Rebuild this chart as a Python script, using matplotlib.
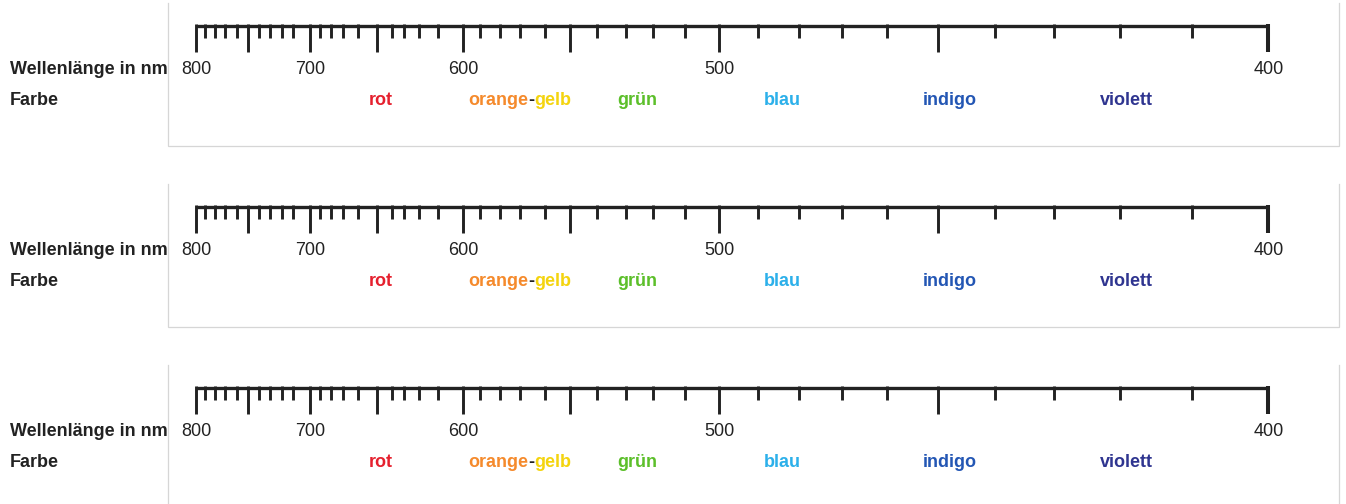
import numpy as np
import matplotlib
matplotlib.use('Agg')
import matplotlib.pyplot as plt

plt.rcParams['font.family'] = ['Liberation Sans', 'DejaVu Sans']

# ruler calibration: wavelength (nm) and where its tick sits across the strip (px)
scale_nm = [800, 790, 780, 770, 760, 750, 740, 730, 720, 710, 700,
            690, 680, 670, 660, 650, 640, 630, 620, 610, 600,
            590, 580, 570, 560, 550, 540, 530, 520, 510, 500,
            490, 480, 470, 460, 450, 440, 430, 420, 410, 400]
scale_px = [196, 205, 214.7, 225.3, 237, 248, 258.7, 270, 281.5, 293.3, 310,
            320, 330.5, 343, 358.3, 376.7, 391.5, 404, 418.7, 438.3, 463.3,
            480, 500, 520, 545, 569.7, 597, 625.5, 653.3, 685, 719.2,
            757.8, 798.8, 841.7, 886.7, 938, 994.5, 1054.3, 1119.5, 1192, 1268.3]

major_nm = [800, 750, 700, 650, 600, 550, 500, 450, 400]
label_nm = [800, 700, 600, 500, 400]

color_names = ['rot', 'grün', 'blau', 'indigo', 'violett']
color_nm = [647.4, 525.9, 484.1, 447.9, 419.1]
color_hex = ['#e5202e', '#5cbf2a', '#2cb0ea', '#2356b4', '#2f3590']
# the split label "orange-gelb"
split_nm = 565.6
split_names = ['orange', 'gelb']
split_hex = ['#f58a2c', '#f4d40e']

panel_offsets = [0, 181, 362]

W, H = 1346, 504
ink = '#222222'

# ascending wavelength, negated pixel position -> monotonic increasing scale
cal_nm = np.array(scale_nm[::-1], dtype=float)
cal_neg = -np.array(scale_px[::-1], dtype=float)


def fwd(x):
    return np.interp(x, cal_nm, cal_neg)


def inv(p):
    return np.interp(p, cal_neg, cal_nm)


fig = plt.figure(figsize=(W / 100, H / 100), dpi=100)
bg = fig.add_axes([0, 0, 1, 1])
bg.set_xlim(0, W)
bg.set_ylim(H, 0)
bg.axis('off')

for off in panel_offsets:
    # light frame around each panel (left, right, bottom)
    bg.plot([168, 168, 1339, 1339], [off + 3, off + 146, off + 146, off + 3],
            color='#d6d6d6', lw=0.9, solid_joinstyle='miter')
    bg.text(10, off + 74, 'Wellenlänge in nm', fontsize=13, fontweight='bold',
            color=ink, va='baseline', ha='left')
    bg.text(10, off + 105, 'Farbe', fontsize=13, fontweight='bold',
            color=ink, va='baseline', ha='left')

    left = scale_px[0]
    right = scale_px[-1]
    ax = fig.add_axes([left / W, 1 - (off + 150) / H, (right - left) / W, 150 / H])
    ax.set_xscale('function', functions=(fwd, inv))
    ax.set_xlim(800, 400)
    ax.set_ylim(150, 0)
    ax.axis('off')

    ax.plot([800, 400], [25.5, 25.5], color=ink, lw=2.4, solid_capstyle='butt',
            clip_on=False)
    minor = [v for v in scale_nm if v not in major_nm]
    ax.vlines(minor, 24, 38, color=ink, lw=2.1, clip_on=False)
    ax.vlines([v for v in major_nm if v != 400], 24, 52, color=ink, lw=2.1,
              clip_on=False)
    ax.vlines([400], 24, 52, color=ink, lw=2.9, clip_on=False)

    for v in label_nm:
        ax.text(v, 74, str(v), fontsize=13, color=ink, ha='center',
                va='baseline', clip_on=False)

    for name, v, c in zip(color_names, color_nm, color_hex):
        ax.text(v, 105, name, fontsize=13, fontweight='bold', color=c,
                ha='center', va='baseline', clip_on=False)

    ax.text(split_nm, 105, '-', fontsize=13, fontweight='bold', color=ink,
            ha='center', va='baseline')
    ax.annotate(split_names[0], (split_nm, 105), xytext=(-2.5, 0),
                textcoords='offset pixels', fontsize=13, fontweight='bold',
                color=split_hex[0], ha='right', va='baseline')
    ax.annotate(split_names[1], (split_nm, 105), xytext=(3, 0),
                textcoords='offset pixels', fontsize=13, fontweight='bold',
                color=split_hex[1], ha='left', va='baseline')

fig.savefig('out.png', dpi=100, facecolor='white')
